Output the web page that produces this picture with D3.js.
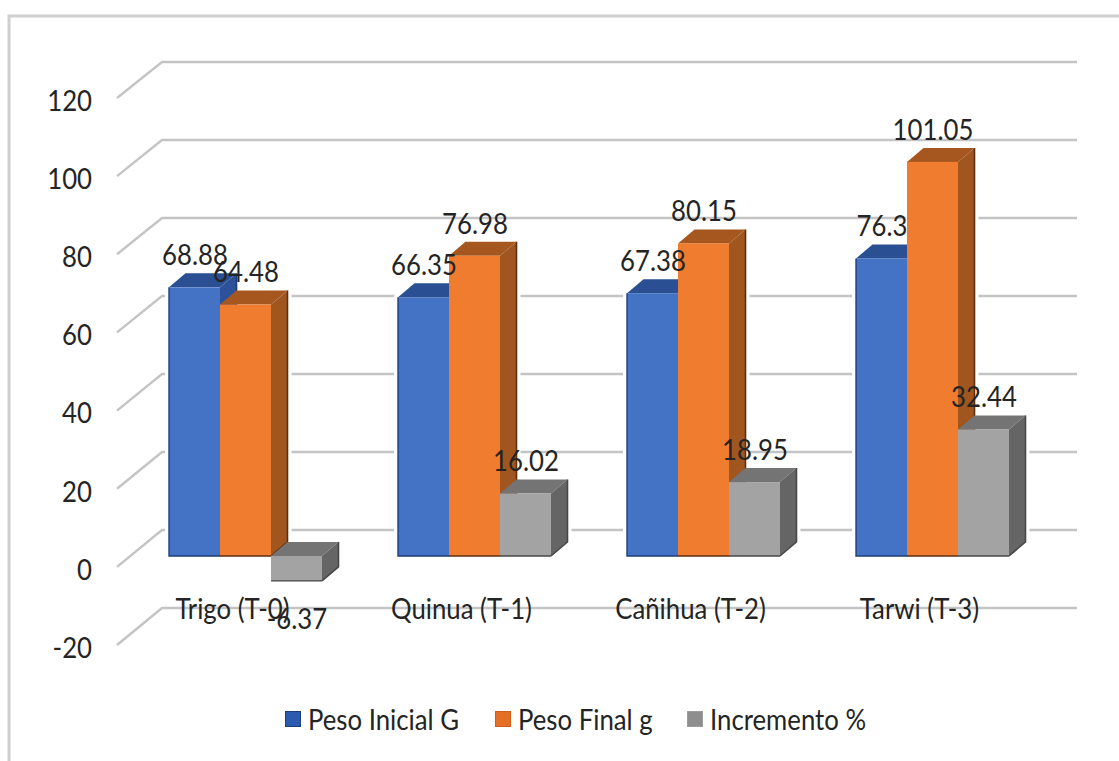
<!DOCTYPE html>
<html>
<head>
<meta charset="utf-8">
<script src="https://cdn.jsdelivr.net/npm/d3@7/dist/d3.min.js"></script>
<style>
  html, body { margin: 0; padding: 0; background: #fff; }
  svg { display: block; }
  text { font-family: Lato, "Open Sans", sans-serif; fill: #242424; }
</style>
</head>
<body>
<svg id="chart" width="1119" height="761"></svg>
<script>
// Chart data
const categories = ["Trigo (T-0)", "Quinua (T-1)", "Cañihua (T-2)", "Tarwi (T-3)"];
const seriesNames = ["Peso Inicial G", "Peso Final g", "Incremento %"];
const pesoInicial = [68.88, 66.35, 67.38, 76.3];
const pesoFinal = [64.48, 76.98, 80.15, 101.05];
const incremento = [-6.37, 16.02, 18.95, 32.44];
const tickValues = [-20, 0, 20, 40, 60, 80, 100, 120];
const seriesValues = [pesoInicial, pesoFinal, incremento];

// Face colours for each series
const palette = [
  { front: "#4472c4", top: "#2a4f93", side: "#2d5299", edge: "#1c3d7a", swatch: "#2c5aae", swatchEdge: "#1c3d7a" },
  { front: "#f07d2f", top: "#a5571f", side: "#a1561f", edge: "#5f2e0e", swatch: "#e56f24", swatchEdge: "#cf5f1a" },
  { front: "#a3a3a3", top: "#747474", side: "#656565", edge: "#474747", swatch: "#8e8e8e", swatchEdge: "#9c9c9c" }
];

const svg = d3.select("#chart");

// Three parallel value scales: floor front edge, back wall and the bars' front plane
const yFront = d3.scaleLinear().domain([-20, 120]).range([645, 98]);
const yBack = d3.scaleLinear().domain([-20, 120]).range([608, 62]);
const yBar = d3.scaleLinear().domain([-20, 120]).range([634, 88]);

const x0 = d3.scaleBand().domain(categories).range([131, 1047]).paddingInner(0.332).paddingOuter(0.166);
const x1 = d3.scaleBand().domain(d3.range(3)).range([0, x0.bandwidth()]);

// Depth of the 3D extrusion
const depthX = 16.5, depthY = 14;
const wallLeft = 162, wallRight = 1077, floorLeft = 117;

// Text is set a little taller than wide to suit the narrow chart lettering
const fontSize = 28, fontSquash = 0.92;
function placeText(sel, x, y) {
  return sel
    .attr("transform", (d, i) => `translate(${x(d, i)},${y(d, i)}) scale(${fontSquash},1)`)
    .attr("dominant-baseline", "central")
    .attr("font-size", fontSize);
}

// Outer frame
svg.append("path")
  .attr("d", "M9,761V16H1119")
  .attr("fill", "none")
  .attr("stroke", "#cfcfcf")
  .attr("stroke-width", 3);

// Gridlines: diagonal on the side wall, then horizontal along the back wall
const grid = svg.append("g").attr("fill", "none").attr("stroke", "#c4c4c4").attr("stroke-width", 2.4);
grid.selectAll("path").data(tickValues).join("path")
  .attr("d", t => `M${floorLeft},${yFront(t)}L${wallLeft},${yBack(t)}H${wallRight}`);

// Value axis labels
placeText(
  svg.append("g").selectAll("text").data(tickValues).join("text")
    .attr("text-anchor", "end")
    .text(t => t),
  () => 92,
  t => yFront(t) + 2
);

// Flatten the bars into one list, each with its pixel box
const bars = categories.flatMap((cat, c) => seriesValues.map((vals, s) => {
  const xl = x0(cat) + x1(s);
  const v = vals[c];
  return {
    s, v, xl,
    xr: xl + x1.bandwidth(),
    yTop: yBar(Math.max(v, 0)),
    yBot: yBar(Math.min(v, 0))
  };
}));

// White margin that keeps the gridlines clear of each bar's outline
svg.append("g").selectAll("path").data(bars).join("path")
  .attr("d", b => `M${b.xl},${b.yTop}L${b.xl + depthX},${b.yTop - depthY}H${b.xr + depthX}V${b.yBot - depthY}L${b.xr},${b.yBot}H${b.xl}Z`)
  .attr("fill", "#fff")
  .attr("stroke", "#fff")
  .attr("stroke-width", 8)
  .attr("stroke-linejoin", "round");

// Extruded bars, drawn left to right so each one overlaps its neighbour's side
const barGroups = svg.append("g").selectAll("g").data(bars).join("g");
barGroups.append("path")
  .attr("d", b => `M${b.xl},${b.yTop}L${b.xl + depthX},${b.yTop - depthY}H${b.xr + depthX}L${b.xr},${b.yTop}Z`)
  .attr("fill", b => palette[b.s].top);
barGroups.append("path")
  .attr("d", b => `M${b.xr},${b.yTop}L${b.xr + depthX},${b.yTop - depthY}V${b.yBot - depthY}L${b.xr},${b.yBot}Z`)
  .attr("fill", b => palette[b.s].side);
barGroups.append("path")
  .attr("d", b => `M${b.xr + depthX},${b.yTop - depthY}V${b.yBot - depthY}L${b.xr},${b.yBot}`)
  .attr("fill", "none")
  .attr("stroke", b => palette[b.s].edge)
  .attr("stroke-width", 1.6);
barGroups.append("rect")
  .attr("x", b => b.xl)
  .attr("y", b => b.yTop)
  .attr("width", x1.bandwidth())
  .attr("height", b => b.yBot - b.yTop)
  .attr("fill", b => palette[b.s].front);
// Only the first series carries a dark left edge; all carry a dark base
barGroups.append("path")
  .attr("d", b => b.s === 0 ? `M${b.xl},${b.yTop}V${b.yBot}H${b.xr}` : `M${b.xl},${b.yBot}H${b.xr}`)
  .attr("fill", "none")
  .attr("stroke", b => palette[b.s].edge)
  .attr("stroke-width", 1.4);

// Category labels sit on the -20 back wall line, shifted left of their group
placeText(
  svg.append("g").selectAll("text").data(categories).join("text")
    .attr("text-anchor", "middle")
    .text(d => d),
  d => x0(d) + x0.bandwidth() / 2 - 13,
  () => yBack(-20)
);

// Data labels above each bar; the negative bar is labelled below
placeText(
  svg.append("g").selectAll("text").data(bars).join("text")
    .attr("text-anchor", "middle")
    .text(b => b.v),
  b => (b.xl + b.xr) / 2 + 0.5,
  b => b.v < 0 ? b.yBot + 37 : b.yTop - 33
);

// Legend
const legendSwatchX = [285, 495, 687];
const legendItems = svg.append("g").selectAll("g").data(seriesNames).join("g");
legendItems.append("rect")
  .attr("x", (d, i) => legendSwatchX[i] + 0.5)
  .attr("y", 711.5)
  .attr("width", 15)
  .attr("height", 15)
  .attr("fill", (d, i) => palette[i].swatch)
  .attr("stroke", (d, i) => palette[i].swatchEdge)
  .attr("stroke-width", 1);
placeText(
  legendItems.append("text").text(d => d),
  (d, i) => legendSwatchX[i] + 23,
  () => 719
);
</script>
</body>
</html>
